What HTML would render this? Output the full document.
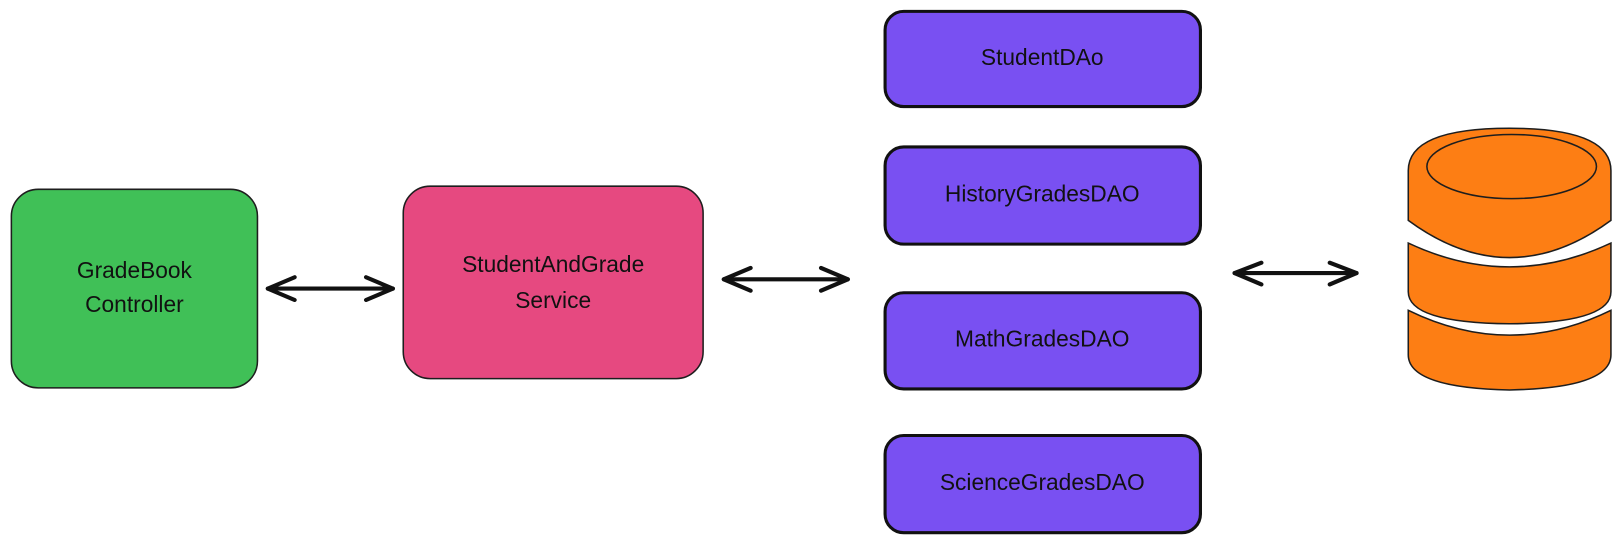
<!DOCTYPE html>
<html><head><meta charset="utf-8"><style>
html,body{margin:0;padding:0;background:#fff;}
svg{display:block}
text{font-family:"Liberation Sans",sans-serif;font-size:22px;fill:#111;text-anchor:middle;dominant-baseline:middle}
</style></head><body>
<svg width="1613" height="541" viewBox="0 0 1560 523" preserveAspectRatio="none">
<g>
<rect x="11" y="183" width="238" height="192" rx="26" fill="#40c057" stroke="#1e1e1e" stroke-width="1.5"/>
<text x="130" y="263">GradeBook</text><text x="130" y="296">Controller</text>
</g>
<g>
<rect x="390" y="180" width="290" height="186" rx="26" fill="#e64980" stroke="#1e1e1e" stroke-width="1.5"/>
<text x="535" y="257">StudentAndGrade</text><text x="535" y="292">Service</text>
</g>
<g>
<rect x="856" y="11" width="305" height="92" rx="18" fill="#7950f2" stroke="#111" stroke-width="3"/>
<text x="1008" y="57">StudentDAo</text></g>
<g>
<rect x="856" y="142" width="305" height="94" rx="18" fill="#7950f2" stroke="#111" stroke-width="3"/>
<text x="1008" y="189">HistoryGradesDAO</text></g>
<g>
<rect x="856" y="283" width="305" height="93" rx="18" fill="#7950f2" stroke="#111" stroke-width="3"/>
<text x="1008" y="329">MathGradesDAO</text></g>
<g>
<rect x="856" y="421" width="305" height="94" rx="18" fill="#7950f2" stroke="#111" stroke-width="3"/>
<text x="1008" y="468">ScienceGradesDAO</text></g>
<g stroke="#111" stroke-width="4" fill="none" stroke-linecap="round" stroke-linejoin="round">
<g>
<line x1="259" y1="279" x2="380" y2="279"/><polyline points="285,268 259,279 285,290"/><polyline points="354,268 380,279 354,290"/></g>
<g>
<line x1="700" y1="270" x2="820" y2="270"/><polyline points="726,259 700,270 726,281"/><polyline points="794,259 820,270 794,281"/></g>
<g>
<line x1="1194" y1="264" x2="1312" y2="264"/><polyline points="1220,254 1194,264 1220,275"/><polyline points="1286,254 1312,264 1286,275"/></g>
</g>
<g fill="#fd7e14" stroke="#1e1e1e" stroke-width="1.5">
<path d="M1362,300 Q1460,348 1558,300 L1558,343 Q1558,375 1460,377 Q1362,375 1362,343 Z"/>
<path d="M1362,235 Q1460,281 1558,235 L1558,282 Q1558,312 1460,313 Q1362,312 1362,282 Z"/>
<path d="M1362,165 Q1362,124 1460,124 Q1558,124 1558,165 L1558,213 Q1460,285 1362,213 Z"/>
<ellipse cx="1462" cy="161" rx="82" ry="31" fill="none"/>
</g>
</svg>
</body></html>
